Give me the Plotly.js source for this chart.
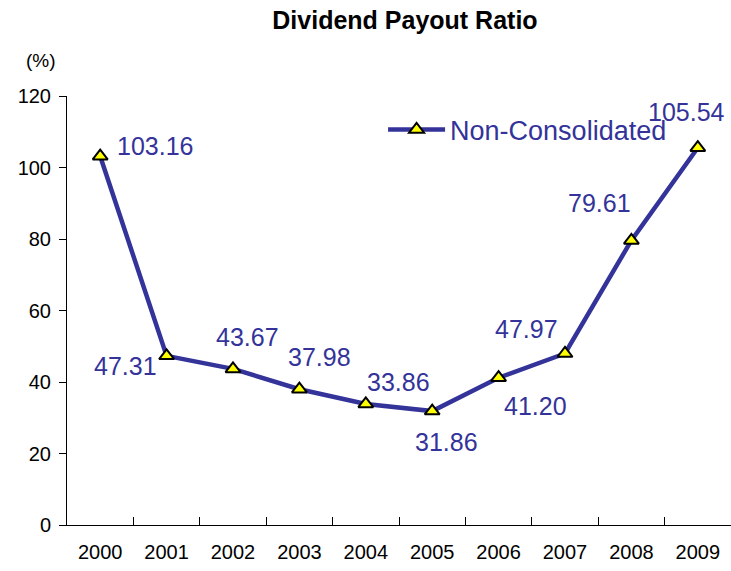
<!DOCTYPE html>
<html>
<head>
<meta charset="utf-8">
<script src="https://cdn.plot.ly/plotly-3.0.1.min.js"></script>
<style>html,body{margin:0;padding:0;background:#fff;}#chart{width:731px;height:571px;}</style>
</head>
<body>
<div id="chart"></div>
<script>
const years = ["2000","2001","2002","2003","2004","2005","2006","2007","2008","2009"];
const payout = [103.16, 47.31, 43.67, 37.98, 33.86, 31.86, 41.20, 47.97, 79.61, 105.54];
const labels = ["103.16","47.31","43.67","37.98","33.86","31.86","41.20","47.97","79.61","105.54"];
const yTicks = [0, 20, 40, 60, 80, 100, 120];

// label offsets (px) relative to the point
const offX = [55, -41, 14, 20, 33, 14, 37, -39, -32, -11];
const offY = [10, -10, 32, 32, 22, -31, -28, 25, 37, 36];

const lineColor = "#333399";

const trace = {
  x: years,
  y: payout,
  type: "scatter",
  mode: "lines+markers",
  name: "Non-Consolidated",
  line: {color: lineColor, width: 4.5},
  marker: {symbol: "triangle-up", size: 13, color: "#ffff00", line: {color: "#000", width: 2}},
  hoverinfo: "skip"
};

const annotations = payout.map((v, i) => ({
  x: i, y: v, xref: "x", yref: "y",
  text: labels[i], showarrow: false,
  xanchor: "center", yanchor: "middle",
  xshift: offX[i], yshift: offY[i],
  font: {family: "Arial, Liberation Sans, sans-serif", size: 25, color: lineColor}
}));
annotations.push({
  xref: "paper", yref: "paper", x: -0.039, y: 1.0, yshift: 36,
  xanchor: "center", yanchor: "middle", showarrow: false, text: "(%)",
  font: {family: "Arial, Liberation Sans, sans-serif", size: 19, color: "#000"}
});

const layout = {
  width: 731, height: 571,
  margin: {l: 67, r: 0, t: 96, b: 46},
  paper_bgcolor: "#fff", plot_bgcolor: "#fff",
  title: {
    text: "Dividend Payout Ratio",
    x: 0.554, xanchor: "center", y: 0.965, yanchor: "middle",
    font: {family: "Arial, Liberation Sans, sans-serif", size: 25, color: "#000", weight: "bold"}
  },
  showlegend: true,
  legend: {
    x: 0.476, y: 0.921, xanchor: "left", yanchor: "middle",
    bgcolor: "rgba(0,0,0,0)",
    font: {family: "Arial, Liberation Sans, sans-serif", size: 27, color: lineColor},
    itemwidth: 57
  },
  xaxis: {
    type: "category",
    range: [-0.5, 9.5],
    showline: true, linecolor: "#000", linewidth: 1,
    ticks: "inside", tickson: "boundaries", ticklen: 8, tickcolor: "#000", tickwidth: 1,
    showgrid: false, zeroline: false,
    tickfont: {family: "Arial, Liberation Sans, sans-serif", size: 20, color: "#000"},
    ticklabelstandoff: 9,
    fixedrange: true
  },
  yaxis: {
    range: [0, 120],
    tickvals: yTicks,
    ticktext: yTicks.map(String),
    showline: true, linecolor: "#000", linewidth: 1,
    ticks: "outside", ticklen: 7, tickcolor: "#000", tickwidth: 1,
    showgrid: false, zeroline: false,
    tickfont: {family: "Arial, Liberation Sans, sans-serif", size: 20, color: "#000"},
    ticklabelstandoff: 4,
    fixedrange: true
  },
  annotations: annotations
};

Plotly.newPlot("chart", [trace], layout, {displayModeBar: false, staticPlot: true});
</script>
</body>
</html>
